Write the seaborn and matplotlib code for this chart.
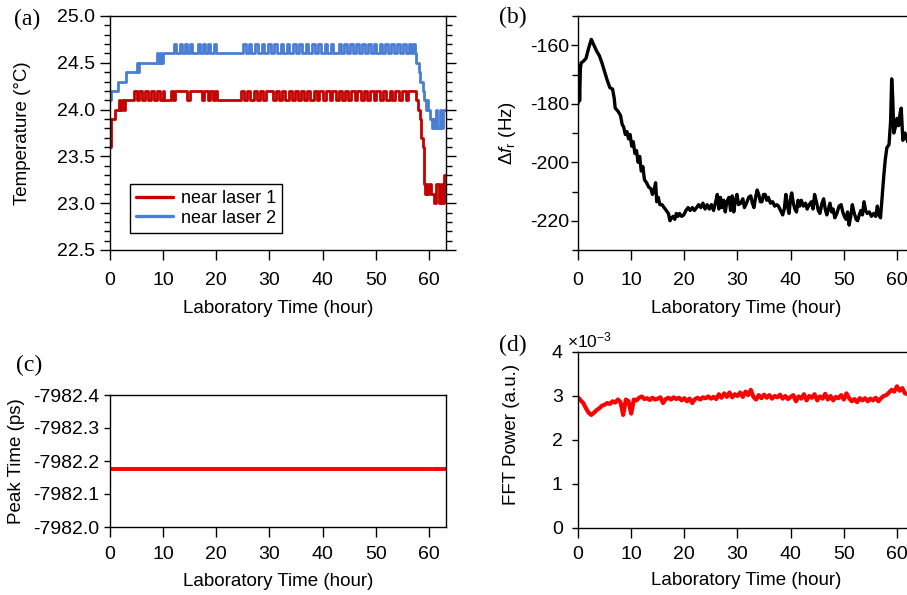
import numpy as np
import pandas as pd
import matplotlib
matplotlib.use("Agg")
import matplotlib.pyplot as plt
import seaborn as sns
from matplotlib.ticker import MultipleLocator, FixedLocator, FormatStrFormatter

# ---------------- data ----------------
# (a) temperature near laser 1 : head, dips/pulses between two levels, tail
laser1_head = [(0, 23.6), (0.15, 23.9), (1.0, 24.0), (1.6, 24.1), (1.9, 24.0), (2.3, 24.1), (2.6, 24.0),
               (2.9, 24.1), (4.5, 24.2)]
laser1_low_level = 24.1
laser1_high_level = 24.2
# intervals where laser-1 temperature sits at the low level (otherwise high) from 4.5 h to 57.6 h
laser1_lows = [(5.0, 5.5), (6.1, 6.6), (7.2, 7.7), (8.3, 8.8), (9.4, 9.9), (10.2, 11.4), (11.8, 12.2),
               (14.5, 15.0), (17.3, 17.7), (18.5, 18.9), (19.3, 19.7), (20.2, 24.6), (25.2, 25.8),
               (26.4, 27.0), (27.6, 28.2), (28.8, 29.4), (30.6, 31.2), (31.8, 32.4), (33.0, 33.6),
               (34.2, 34.8), (35.3, 35.9), (36.5, 37.0), (37.7, 38.3), (38.9, 39.4), (40.1, 40.7),
               (41.3, 41.8), (42.5, 43.0), (43.6, 44.2), (44.8, 45.4), (46.0, 46.5), (47.2, 47.7),
               (48.4, 48.9), (49.6, 50.1), (50.8, 51.3), (51.9, 52.6), (53.1, 53.6), (54.3, 54.9),
               (55.6, 56.1)]
laser1_tail = [(57.6, 24.1), (58.0, 24.0), (58.3, 23.9), (58.5, 23.7), (58.8, 23.6), (59.0, 23.2),
               (59.2, 23.1), (59.4, 23.2), (59.7, 23.1), (60.0, 23.2), (60.3, 23.1), (61.0, 23.0),
               (61.4, 23.2), (61.8, 23.0), (62.2, 23.2), (62.5, 23.0), (62.8, 23.3), (63.2, 23.3)]

# (a) temperature near laser 2 : head, pulses between two levels, tail
laser2_head = [(0, 24.1), (0.15, 24.2), (1.5, 24.3), (3.0, 24.4), (5.0, 24.5), (5.2, 24.4), (5.5, 24.5),
               (8.8, 24.6), (9.1, 24.5), (9.4, 24.6), (9.6, 24.5), (9.9, 24.6)]
laser2_base_level = 24.6
laser2_pulse_level = 24.7
laser2_pulses = [(12.0, 12.5), (13.2, 13.6), (14.1, 14.5), (15.0, 15.4), (16.5, 16.9), (17.4, 17.8),
                 (18.4, 18.8), (19.5, 19.9),
                 (25.0, 25.5), (26.1, 26.6), (27.3, 27.8), (28.5, 29.0), (29.7, 30.2), (30.9, 31.4),
                 (32.1, 32.6), (33.2, 33.7), (34.4, 34.9), (35.6, 36.1), (36.8, 37.3), (38.0, 38.5),
                 (39.2, 39.7), (40.4, 40.9), (41.5, 42.0), (43.0, 43.5), (44.1, 44.6), (45.2, 45.7),
                 (46.3, 46.8), (47.4, 47.9), (48.5, 49.0), (49.6, 50.1), (50.7, 51.2), (51.8, 52.3),
                 (52.9, 53.4), (54.0, 54.5), (55.1, 55.6), (56.2, 56.7), (57.0, 57.4)]
laser2_tail = [(57.6, 24.5), (58.1, 24.4), (58.4, 24.3), (58.8, 24.2), (59.1, 24.1), (59.4, 24.0),
               (59.6, 24.1), (59.8, 24.0), (60.1, 23.9), (60.5, 23.8), (60.8, 23.9), (61.0, 23.8),
               (61.3, 24.0), (61.6, 23.8), (62.0, 24.0), (62.3, 23.8), (62.6, 24.0), (63.2, 24.0)]

# (b) repetition-rate offset (hour, Hz)
delta_fr = [
    (0.0, -180), (0.15, -167), (0.3, -179), (0.45, -168), (0.6, -166), (1.0, -165.5), (1.5, -164.5),
    (2.0, -161), (2.5, -158), (3.0, -160), (3.5, -162), (4.0, -163.5), (4.5, -166), (5.0, -169),
    (5.5, -172), (6.0, -174.5), (6.5, -175), (6.8, -178), (7.0, -181.5), (7.5, -182.5), (8.0, -184),
    (8.3, -187), (8.6, -188), (8.9, -190.5), (9.2, -189.5), (9.5, -192), (9.8, -190.5), (10.1, -194.5),
    (10.4, -193), (10.7, -197), (11.0, -196), (11.3, -200), (11.6, -198), (11.9, -203), (12.2, -201.5),
    (12.5, -206), (12.9, -207), (13.3, -208.5), (13.7, -209), (14.0, -211), (14.3, -209.5), (14.6, -207),
    (14.8, -213.5), (15.1, -212), (15.4, -214.5), (15.8, -214.5), (16.2, -215.5), (16.6, -216.5),
    (17.0, -217.5), (17.3, -220), (17.6, -219), (17.9, -218.5), (18.2, -219.5), (18.5, -217.5),
    (18.8, -218.5), (19.1, -217.5), (19.5, -218.5), (19.9, -218), (20.3, -216.5), (20.7, -215.5),
    (21.1, -216.5), (21.5, -215.5), (21.9, -216.5), (22.3, -215.5), (22.7, -214.5), (23.1, -215.5),
    (23.5, -214), (23.9, -216), (24.3, -214.5), (24.7, -216), (25.1, -214.5), (25.5, -216.5),
    (25.9, -213.5), (26.2, -211), (26.5, -216), (26.8, -212), (27.1, -215.5), (27.4, -213), (27.7, -217),
    (28.0, -213.5), (28.4, -212), (28.7, -216.5), (29.0, -211.5), (29.3, -217), (29.6, -213), (29.9, -211),
    (30.2, -214.5), (30.6, -214), (31.0, -212.5), (31.3, -215.5), (31.7, -214), (32.1, -212),
    (32.5, -211.5), (32.8, -214), (33.1, -215.5), (33.4, -212), (33.7, -209.5), (34.0, -211),
    (34.3, -213.5), (34.6, -213.5), (34.9, -211), (35.2, -211), (35.5, -213), (35.8, -212), (36.2, -214),
    (36.6, -213.5), (37.0, -215), (37.4, -214.5), (37.7, -215), (38.1, -216.5), (38.5, -218), (38.8, -216),
    (39.1, -211), (39.4, -215), (39.7, -217.5), (40.0, -212), (40.2, -210.5), (40.5, -214), (40.8, -216),
    (41.1, -217), (41.4, -213), (41.7, -215), (42.0, -213), (42.4, -215), (42.8, -214), (43.1, -216),
    (43.5, -214.5), (43.9, -213.5), (44.2, -216), (44.5, -211), (44.9, -214), (45.2, -216.5),
    (45.5, -217.5), (45.9, -214), (46.2, -212.5), (46.5, -216), (46.8, -218), (47.1, -216), (47.4, -214),
    (47.7, -217), (48.0, -216), (48.3, -219), (48.7, -217.5), (49.1, -215), (49.5, -214.5), (49.8, -217),
    (50.1, -218.5), (50.4, -219.5), (50.7, -217), (51.0, -221.5), (51.3, -218.5), (51.6, -214.5),
    (51.9, -217), (52.3, -219.5), (52.6, -220), (52.9, -218), (53.2, -216.5), (53.5, -218), (53.8, -213.5),
    (54.1, -216.5), (54.4, -217.5), (54.8, -217), (55.2, -218.5), (55.6, -217.5), (56.0, -218.5),
    (56.3, -215), (56.6, -218), (56.9, -219), (57.2, -212), (57.5, -205), (57.8, -199), (58.1, -195),
    (58.5, -194), (58.8, -186), (59.0, -171.5), (59.2, -178), (59.4, -190), (59.7, -188), (60.0, -185),
    (60.3, -187.5), (60.6, -183), (60.8, -181.5), (61.1, -192.5), (61.5, -190), (62.0, -193),
    (62.5, -191), (63.2, -193),
]

# (c) peak time (hour, ps)
peak_hours = [0, 10, 20, 30, 40, 50, 60, 63.2]
peak_ps = [-7982.176, -7982.176, -7982.176, -7982.176, -7982.176, -7982.176, -7982.176, -7982.176]
peak_ticks = [-7982.0, -7982.1, -7982.2, -7982.3, -7982.4]

# (d) FFT power (hour, x1e-3 a.u.)
fft_power = [
    (0.0, 2.97), (0.5, 2.9), (1.0, 2.84), (1.5, 2.72), (2.0, 2.62), (2.5, 2.57), (3.0, 2.62), (3.5, 2.68),
    (4.0, 2.72), (4.5, 2.78), (5.0, 2.8), (5.5, 2.84), (6.0, 2.82), (6.5, 2.88), (7.0, 2.85), (7.5, 2.92),
    (8.0, 2.86), (8.5, 2.57), (9.0, 2.92), (9.5, 2.88), (10.0, 2.6), (10.5, 2.92), (11.0, 2.9), (11.5, 2.96),
    (12.0, 2.99), (12.5, 2.93), (13.0, 2.95), (13.5, 2.91), (14.0, 2.96), (14.5, 2.92), (15.0, 2.94),
    (15.5, 2.97), (16.0, 2.84), (16.5, 2.93), (17.0, 2.96), (17.5, 2.92), (18.0, 2.97), (18.5, 2.93),
    (19.0, 2.96), (19.5, 2.9), (20.0, 2.95), (20.5, 2.88), (21.0, 2.94), (21.5, 2.84), (22.0, 2.93),
    (22.5, 2.96), (23.0, 2.92), (23.5, 2.97), (24.0, 2.95), (24.5, 2.99), (25.0, 2.94), (25.5, 2.98),
    (26.0, 2.93), (26.5, 3.04), (27.0, 2.96), (27.5, 3.06), (28.0, 2.98), (28.5, 3.08), (29.0, 2.97),
    (29.5, 3.04), (30.0, 3.0), (30.5, 3.08), (31.0, 2.98), (31.5, 3.1), (32.0, 3.02), (32.5, 3.14),
    (33.0, 2.98), (33.5, 2.92), (34.0, 3.02), (34.5, 2.95), (35.0, 3.03), (35.5, 2.96), (36.0, 3.02),
    (36.5, 2.94), (37.0, 3.0), (37.5, 2.97), (38.0, 3.03), (38.5, 2.94), (39.0, 3.0), (39.5, 2.93),
    (40.0, 2.98), (40.5, 3.02), (41.0, 2.88), (41.5, 2.99), (42.0, 2.94), (42.5, 3.04), (43.0, 2.9),
    (43.5, 3.0), (44.0, 2.96), (44.5, 3.04), (45.0, 2.9), (45.5, 2.99), (46.0, 2.94), (46.5, 3.05),
    (47.0, 2.92), (47.5, 3.0), (48.0, 2.9), (48.5, 2.98), (49.0, 2.95), (49.5, 3.02), (50.0, 2.92),
    (50.5, 3.06), (51.0, 2.95), (51.5, 2.88), (52.0, 2.93), (52.5, 2.86), (53.0, 2.95), (53.5, 2.9),
    (54.0, 2.95), (54.5, 2.88), (55.0, 2.94), (55.5, 2.9), (56.0, 2.96), (56.5, 2.88), (57.0, 2.95),
    (57.5, 3.0), (58.0, 3.02), (58.5, 3.08), (59.0, 3.14), (59.5, 3.1), (60.0, 3.22), (60.5, 3.12),
    (61.0, 3.18), (61.5, 3.06), (62.0, 3.04), (62.5, 3.08),
]

hour_ticks = [0, 10, 20, 30, 40, 50, 60]

# ---------------- build tables ----------------
laser1_pts = list(laser1_head)
for a, b in laser1_lows:
    laser1_pts += [(a, laser1_low_level), (b, laser1_high_level)]
laser1_pts += laser1_tail
laser1_df = pd.DataFrame(laser1_pts, columns=["hour", "temp"])

laser2_pts = list(laser2_head)
for a, b in laser2_pulses:
    laser2_pts += [(a, laser2_pulse_level), (b, laser2_base_level)]
laser2_pts += laser2_tail
laser2_df = pd.DataFrame(laser2_pts, columns=["hour", "temp"])
fr_df = pd.DataFrame(delta_fr, columns=["hour", "dfr"])
fft_df = pd.DataFrame(fft_power, columns=["hour", "power"])

# ---------------- style ----------------
sns.set_style("ticks")
plt.rcParams["font.family"] = ["Liberation Sans", "DejaVu Sans"]
plt.rcParams["axes.unicode_minus"] = False
plt.rcParams["mathtext.fontset"] = "custom"
plt.rcParams["mathtext.rm"] = "Liberation Sans"
plt.rcParams["mathtext.it"] = "Liberation Sans:italic"
plt.rcParams["mathtext.bf"] = "Liberation Sans:bold"
for k in ["axes.edgecolor", "xtick.color", "ytick.color", "text.color", "axes.labelcolor"]:
    plt.rcParams[k] = "black"
plt.rcParams["axes.linewidth"] = 1.0

FS = 13.5
TFS = 14
W_PX, H_PX = 907, 595
fig = plt.figure(figsize=(W_PX / 100, H_PX / 100), dpi=100)


def box(left, top, width, height):
    return [left / W_PX, 1 - (top + height) / H_PX, width / W_PX, height / H_PX]


axA = fig.add_axes(box(110, 16, 336, 234))
axB = fig.add_axes(box(578, 16, 336, 234))
axC = fig.add_axes(box(110, 395, 336, 132))
axD = fig.add_axes(box(578, 352, 336, 176))

# (a)
sns.lineplot(data=laser1_df, x="hour", y="temp", ax=axA, color="#C40000", lw=2.0,
             drawstyle="steps-post", label="near laser 1", sort=False)
sns.lineplot(data=laser2_df, x="hour", y="temp", ax=axA, color="#4A7DD4", lw=2.0,
             drawstyle="steps-post", label="near laser 2", sort=False)
axA.set_ylim(22.5, 25.0)
axA.yaxis.set_major_locator(MultipleLocator(0.5))
axA.yaxis.set_minor_locator(MultipleLocator(0.1))
axA.yaxis.set_major_formatter(FormatStrFormatter("%.1f"))
axA.tick_params(axis="y", which="both", right=True)
axA.set_ylabel("Temperature (°C)", fontsize=FS)
axA.yaxis.set_label_coords(-0.235, 0.5)
leg = axA.legend(loc="lower left", bbox_to_anchor=(0.06, 0.073), borderaxespad=0, fontsize=13,
                 frameon=True, fancybox=False, framealpha=1, edgecolor="black",
                 handlelength=2.0, handletextpad=0.45, labelspacing=0.12, borderpad=0.35)
leg.get_frame().set_linewidth(1.0)
for h in leg.get_lines():
    h.set_linewidth(2.4)

# (b)
sns.lineplot(data=fr_df, x="hour", y="dfr", ax=axB, color="black", lw=2.4, sort=False)
axB.set_ylim(-230, -150)
axB.yaxis.set_major_locator(MultipleLocator(20))
axB.yaxis.set_minor_locator(MultipleLocator(10))
axB.set_ylabel(r"$\mathit{\Delta f}_\mathrm{r}$ (Hz)", fontsize=FS)
axB.yaxis.set_label_coords(-0.178, 0.5)

# (c)
sns.lineplot(x=peak_hours, y=peak_ps, ax=axC, color="#FF0000", lw=2.8)
axC.set_ylim(-7982.0, -7982.4)
axC.yaxis.set_major_locator(FixedLocator(peak_ticks))
axC.yaxis.set_major_formatter(FormatStrFormatter("%.1f"))
axC.set_ylabel("Peak Time (ps)", fontsize=FS)
axC.yaxis.set_label_coords(-0.253, 0.5)

# (d)
sns.lineplot(data=fft_df, x="hour", y="power", ax=axD, color="#FF0000", lw=3.0, sort=False)
axD.set_ylim(0, 4)
axD.yaxis.set_major_locator(MultipleLocator(1))
axD.set_ylabel("FFT Power (a.u.)", fontsize=FS)
axD.yaxis.set_label_coords(-0.173, 0.53)
fig.text(567 / W_PX, 1 - 347 / H_PX, r"×10$^{\mathrm{-3}}$", fontsize=12.5, ha="left", va="baseline")

# common
for ax, ypad, ylen, xpad in [(axA, 3.5, 7, 9), (axB, 1.0, 5, 9), (axC, 3.0, 4.5, 7), (axD, 7.0, 4, 6)]:
    ax.set_xlim(0, 63.2)
    ax.xaxis.set_major_locator(FixedLocator(hour_ticks))
    ax.tick_params(axis="x", which="major", direction="out", length=7, width=1, pad=xpad, labelsize=TFS)
    ax.tick_params(axis="y", which="major", direction="out", length=ylen, width=1, pad=ypad, labelsize=TFS)
    ax.tick_params(axis="y", which="minor", direction="out", length=4, width=1)
    ax.set_xlabel("Laboratory Time (hour)", fontsize=FS)
    for s in ax.spines.values():
        s.set_linewidth(1.0)
        s.set_color("black")

axA.xaxis.set_label_coords(0.5, -0.215)
axB.xaxis.set_label_coords(0.5, -0.215)
axC.xaxis.set_label_coords(0.5, -0.35)
axD.xaxis.set_label_coords(0.5, -0.25)

# panel letters
serif = ["Liberation Serif", "DejaVu Serif"]
for lbl, x, y in [("(a)", 14, 19), ("(b)", 499, 17), ("(c)", 16, 365), ("(d)", 499, 345)]:
    fig.text(x / W_PX, 1 - y / H_PX, lbl, fontsize=17, family=serif, ha="left", va="center")

fig.savefig("out.png", dpi=100)
